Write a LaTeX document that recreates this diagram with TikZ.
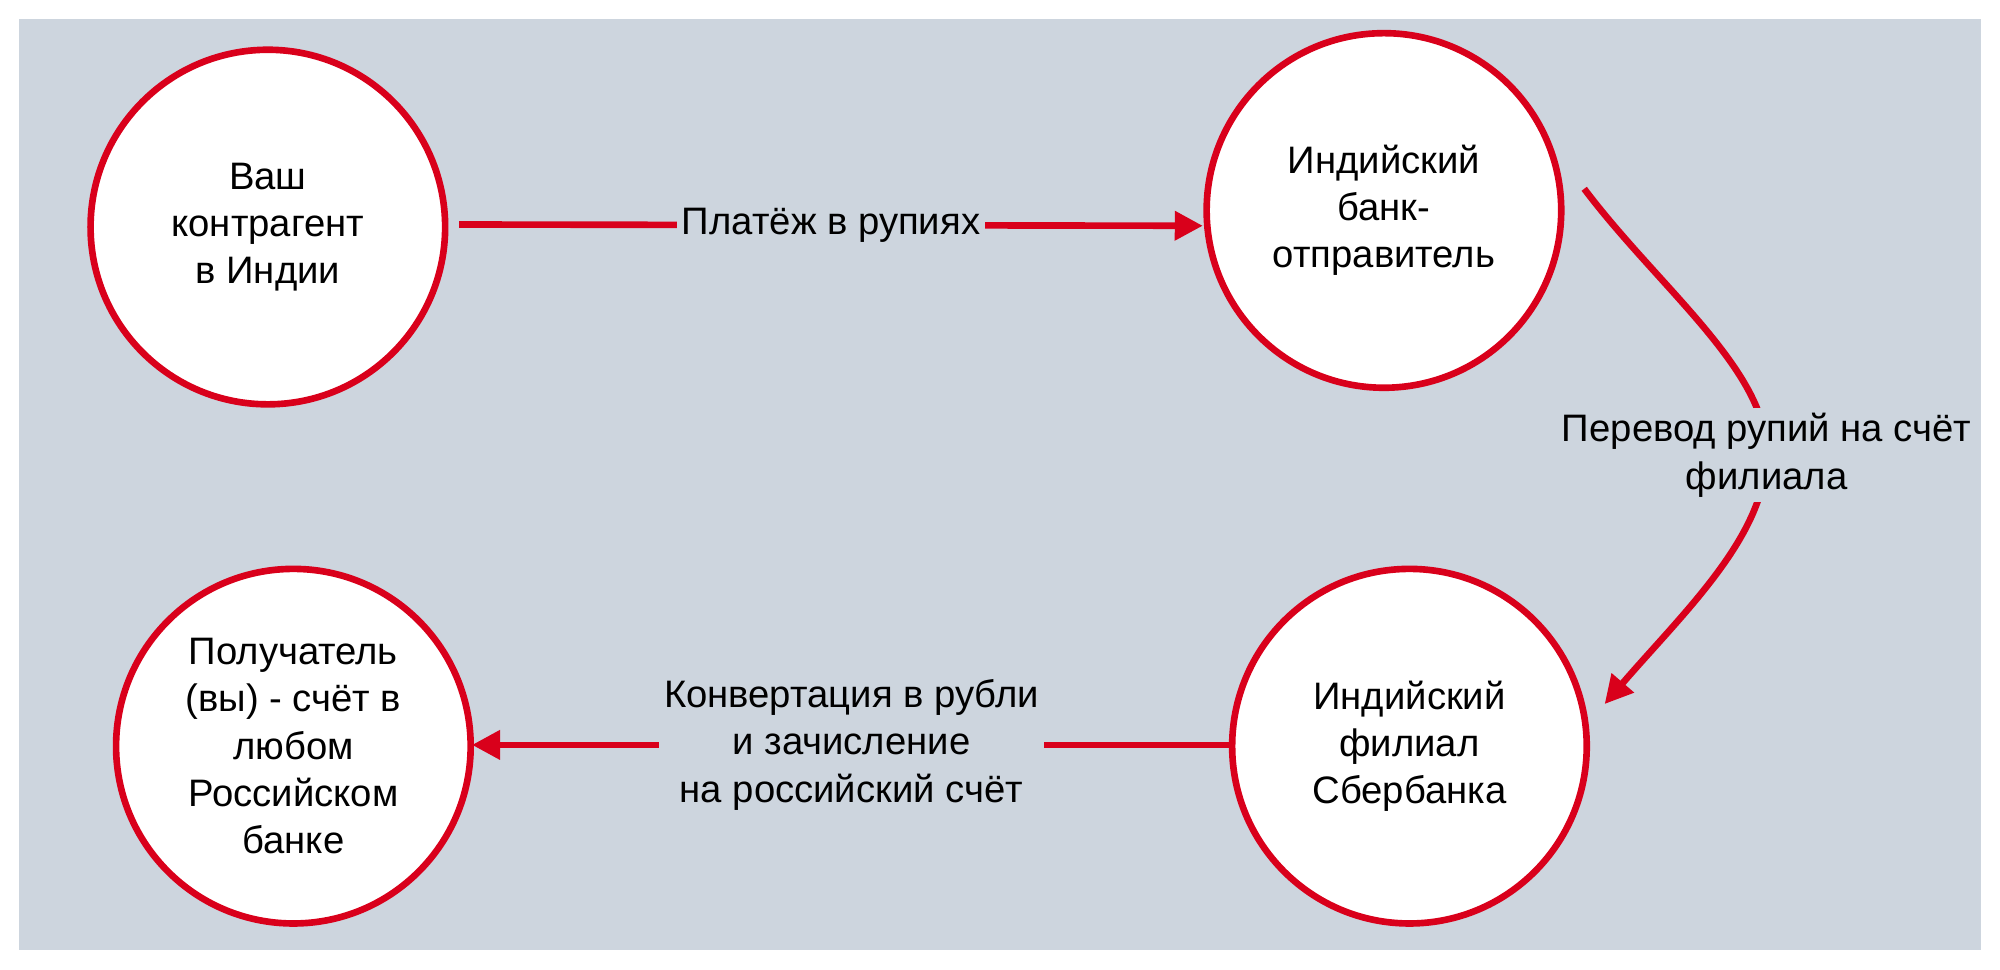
\documentclass[tikz,border=0pt]{standalone}
\usepackage{fontspec}
\setmainfont{Liberation Sans}
\usetikzlibrary{arrows.meta}
\definecolor{bg}{HTML}{CDD5DE}
\definecolor{rd}{HTML}{D9001B}
\begin{document}
\begin{tikzpicture}[x=0.5pt,y=-0.5pt,
  stage/.style={circle,draw=rd,line width=2.6pt,fill=white,minimum size=139pt,align=center,font=\fontsize{15}{18.5}\selectfont,inner sep=0pt},
  flow/.style={draw=rd,line width=2.6pt,-{Triangle[length=11pt,width=11pt]}},
  lbl/.style={fill=bg,align=center,font=\fontsize{15}{18.5}\selectfont,inner sep=2pt}]
\useasboundingbox (0,0) rectangle (1568,760);
\fill[white] (0,0) rectangle (1568,760);
\fill[bg] (15,15) rectangle (1553,745);
\node[stage] (a) at (210,178) {Ваш\\контрагент\\в Индии};
\node[stage] (b) at (1085,165) {Индийский\\банк-\\отправитель};
\node[stage] (c) at (1105,585) {Индийский\\филиал\\Сбербанка};
\node[stage] (d) at (230,585) {Получатель\\(вы) - счёт в\\любом\\Российском\\банке};
\coordinate (a1) at (360,176);
\coordinate (b1) at (943,177);
\draw[flow] (a1) -- (b1) node[lbl,midway] {Платёж в рупиях};
\coordinate (b2) at (1242,148);
\coordinate (c2) at (1258,552);
\draw[flow] (b2) .. controls (1300,225) and (1385,290) .. (1385,355) .. controls (1385,420) and (1320,480) .. (c2);
\node[lbl] (l2) at (1385,357) {Перевод рупий на счёт\\филиала};
\coordinate (c3) at (965,584);
\coordinate (d3) at (370,584);
\draw[flow] (c3) -- (d3) node[lbl,midway] {Конвертация в рубли\\и зачисление\\на российский счёт};
\end{tikzpicture}
\end{document}
